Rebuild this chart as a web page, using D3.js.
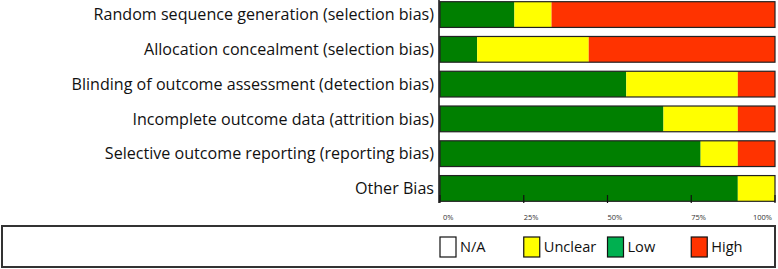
<!DOCTYPE html>
<html>
<head>
    <meta charset="utf-8">
    <script src="https://cdn.jsdelivr.net/npm/d3@7"></script>
    <style>
        body { margin: 0; background: #fff; }
        text { font-family: "Open Sans", sans-serif; }
    </style>
</head>
<body>
    <svg width="778" height="269" id="mainsvg"></svg>
    <script>
        // risk of bias domains, percentages of studies (n = 9)
        const domains = [
            'Random sequence generation (selection bias)',
            'Allocation concealment (selection bias)',
            'Blinding of outcome assessment (detection bias)',
            'Incomplete outcome data (attrition bias)',
            'Selective outcome reporting (reporting bias)',
            'Other Bias'
        ];
        const low = [22.2, 11.1, 55.6, 66.7, 77.8, 88.9];
        const unclear = [11.1, 33.3, 33.3, 22.2, 11.1, 11.1];
        const high = [66.7, 55.6, 11.1, 11.1, 11.1, 0];
        const ticks = [0, 25, 50, 75, 100];
        const legendKeys = ['N/A', 'Unclear', 'Low', 'High'];

        const svg = d3.select('svg');
        const barColor = { low: '#007f00', unclear: '#ffff00', high: '#ff3300' };
        const legendColor = { 'N/A': '#ffffff', 'Unclear': '#ffff00', 'Low': '#00b050', 'High': '#ff3300' };

        const x = d3.scaleLinear().domain([0, 100]).range([440, 775]);
        const y = d3.scaleBand().domain(domains).range([1, 202]).paddingInner(0.26).paddingOuter(0.02);

        const rows = domains.map((d, i) => ({ name: d, low: low[i], unclear: unclear[i], high: high[i] }));
        const stack = d3.stack().keys(['low', 'unclear', 'high'])(rows);

        const g = svg.append('g');
        stack.forEach(layer => {
            g.selectAll(null).data(layer.filter(d => d[1] - d[0] > 0)).join('rect')
                .attr('x', d => x(d[0]))
                .attr('width', d => x(d[1]) - x(d[0]))
                .attr('y', d => y(d.data.name))
                .attr('height', y.bandwidth())
                .attr('fill', barColor[layer.key]);
        });
        // outline of each bar
        g.selectAll('.outline').data(domains).join('rect')
            .attr('class', 'outline')
            .attr('x', x(0)).attr('width', x(100) - x(0))
            .attr('y', d => y(d)).attr('height', y.bandwidth())
            .attr('fill', 'none').attr('stroke', '#222').attr('stroke-width', 1.2);

        // category labels
        g.selectAll('.cat').data(domains).join('text')
            .attr('class', 'cat')
            .attr('x', 434)
            .attr('y', d => y(d) + y.bandwidth() / 2)
            .attr('dy', '0.35em')
            .attr('text-anchor', 'end')
            .attr('font-size', 16.1)
            .attr('fill', '#111')
            .text(d => d);

        // axes
        g.append('line').attr('x1', 439).attr('x2', 439).attr('y1', 0).attr('y2', 203)
            .attr('stroke', '#111').attr('stroke-width', 1.5);
        g.selectAll('.tick').data(ticks).join('line')
            .attr('class', 'tick')
            .attr('x1', d => x(d)).attr('x2', d => x(d))
            .attr('y1', 195).attr('y2', 203)
            .attr('stroke', '#111').attr('stroke-width', 1.2);
        g.selectAll('.tlab').data(ticks).join('text')
            .attr('class', 'tlab')
            .attr('x', d => d === 100 ? x(d) - 3 : x(d) + (d === 0 ? 3 : 0))
            .attr('y', 220)
            .attr('text-anchor', d => d === 100 ? 'end' : 'start')
            .attr('font-size', 7.5)
            .attr('fill', '#333')
            .text(d => d + '%');

        // legend
        const lg = svg.append('g');
        lg.append('rect').attr('x', 2).attr('y', 226).attr('width', 773).attr('height', 41)
            .attr('fill', '#fff').attr('stroke', '#333').attr('stroke-width', 2);
        const item = lg.selectAll('.item').data(legendKeys).join('g')
            .attr('class', 'item')
            .attr('transform', (d, i) => `translate(${x(ticks[i])}, 237)`);
        item.append('rect').attr('x', 0).attr('y', 0).attr('width', 16).attr('height', 20)
            .attr('fill', d => legendColor[d]).attr('stroke', '#111').attr('stroke-width', 1.2);
        item.append('text').attr('x', 20).attr('y', 10).attr('dy', '0.35em')
            .attr('font-size', 14.6).attr('fill', '#111')
            .text(d => d);
    </script>
</body>
</html>
